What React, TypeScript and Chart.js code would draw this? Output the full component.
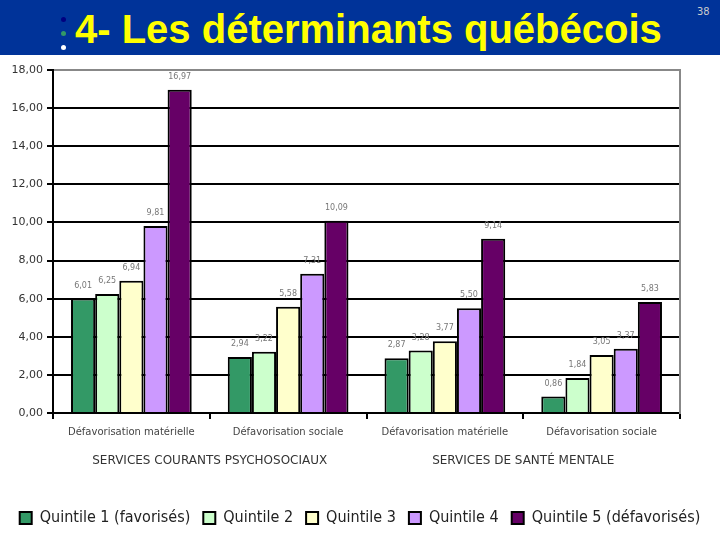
import React, { useEffect, useRef } from "react";
import { Chart, registerables } from "chart.js";

Chart.register(...registerables);

const categories = [
  "Défavorisation matérielle",
  "Défavorisation sociale",
  "Défavorisation matérielle",
  "Défavorisation sociale",
];
const groups = ["SERVICES COURANTS PSYCHOSOCIAUX", "SERVICES DE SANTÉ MENTALE"];
const seriesNames = [
  "Quintile 1 (favorisés)",
  "Quintile 2",
  "Quintile 3",
  "Quintile 4",
  "Quintile 5 (défavorisés)",
];
const quintile1 = [6.01, 2.94, 2.87, 0.86];
const quintile2 = [6.25, 3.22, 3.28, 1.84];
const quintile3 = [6.94, 5.58, 3.77, 3.05];
const quintile4 = [9.81, 7.31, 5.5, 3.37];
const quintile5 = [16.97, 10.09, 9.14, 5.83];
const seriesColors = ["#339966", "#CCFFCC", "#FFFFCC", "#CC99FF", "#660066"];
const yMax = 18;
const yStep = 2;

const fmt = (v: number) => v.toFixed(2).replace(".", ",");

const valueLabels = {
  id: "valueLabels",
  afterDatasetsDraw(chart: any) {
    const ctx = chart.ctx;
    ctx.save();
    ctx.font = "8px 'DejaVu Sans'";
    ctx.fillStyle = "#777";
    ctx.textAlign = "center";
    ctx.textBaseline = "bottom";
    chart.data.datasets.forEach((ds: any, i: number) => {
      const meta = chart.getDatasetMeta(i);
      meta.data.forEach((el: any, j: number) => {
        ctx.fillText(fmt(ds.data[j]), el.x, el.y - 9);
      });
    });
    ctx.restore();
  },
};

function ChartView() {
  const ref = useRef<HTMLCanvasElement>(null);
  useEffect(() => {
    if (!ref.current) return;
    const all = [quintile1, quintile2, quintile3, quintile4, quintile5];
    const chart = new Chart(ref.current, {
      type: "bar",
      data: {
        labels: categories,
        datasets: all.map((d, i) => ({
          label: seriesNames[i],
          data: d,
          backgroundColor: seriesColors[i],
          borderColor: "#000",
          borderWidth: 2,
          categoryPercentage: 0.77,
          barPercentage: 1,
        })),
      },
      options: {
        animation: false,
        responsive: false,
        maintainAspectRatio: false,
        layout: { padding: { top: 15, right: 0, left: 0, bottom: 4 } },
        plugins: {
          tooltip: { enabled: false },
          legend: {
            position: "bottom",
            labels: {
              font: { family: "'Liberation Sans Narrow', 'DejaVu Sans Condensed', 'DejaVu Sans'", size: 16 },
              color: "#222",
              boxWidth: 12,
              boxHeight: 12,
              padding: 13,
            },
          },
        },
        scales: {
          x: {
            type: "category",
            offset: true,
            grid: {
              drawOnChartArea: false,
              drawTicks: true,
              tickLength: 6,
              color: "#000",
              lineWidth: 2,
              offset: true,
            },
            border: { color: "#000", width: 2 },
            ticks: {
              font: { family: "'DejaVu Sans'", size: 10 },
              color: "#444",
              padding: 7,
              maxRotation: 0,
              autoSkip: false,
            },
            afterFit: (axis: any) => {
              axis.height = 30;
            },
          },
          x2: {
            type: "category",
            labels: groups,
            position: "bottom",
            offset: true,
            grid: { display: false },
            border: { display: false },
            ticks: {
              font: { family: "'DejaVu Sans'", size: 12 },
              color: "#333",
              padding: 3,
              maxRotation: 0,
              autoSkip: false,
            },
            afterFit: (axis: any) => {
              axis.height = 54;
            },
          },
          y: {
            min: 0,
            max: yMax,
            ticks: {
              stepSize: yStep,
              font: { family: "'DejaVu Sans'", size: 11 },
              color: "#333",
              padding: 4,
              callback: (v: any) => fmt(Number(v)),
            },
            grid: {
              color: (c: any) => (c.tick && c.tick.value === yMax ? "#888" : "#000"),
              lineWidth: 2,
              tickLength: 6,
              tickColor: "#000",
            },
            border: { color: "#000", width: 2 },
            afterFit: (axis: any) => {
              axis.width = 53;
            },
          },
          y2: {
            position: "right",
            min: 0,
            max: yMax,
            ticks: { display: false },
            grid: { display: false },
            border: { display: true, color: "#888", width: 2 },
            afterFit: (axis: any) => {
              axis.width = 40;
            },
          },
        },
      } as any,
      plugins: [valueLabels],
    });
    return () => chart.destroy();
  }, []);
  return <canvas ref={ref} width={720} height={485} style={{ display: "block" }} />;
}

export default function App() {
  return (
    <div
      style={{
        position: "fixed",
        left: 0,
        top: 0,
        width: 720,
        height: 540,
        background: "#fff",
        overflow: "hidden",
      }}
    >
      <div
        style={{
          position: "absolute",
          left: 0,
          top: 0,
          width: 720,
          height: 55,
          background: "#003399",
        }}
      >
        <div style={{ position: "absolute", left: 61, top: 17, width: 5, height: 5, borderRadius: 3, background: "#000080" }} />
        <div style={{ position: "absolute", left: 61, top: 31, width: 5, height: 5, borderRadius: 3, background: "#339966" }} />
        <div style={{ position: "absolute", left: 61, top: 45, width: 5, height: 5, borderRadius: 3, background: "#ffffff" }} />
        <div
          style={{
            position: "absolute",
            left: 75,
            top: 4,
            fontFamily: "'Liberation Sans', Arial, sans-serif",
            fontWeight: "bold",
            fontSize: 40,
            lineHeight: "50px",
            color: "#FFFF00",
            whiteSpace: "nowrap",
          }}
        >
          4- Les déterminants québécois
        </div>
        <div
          style={{
            position: "absolute",
            left: 697,
            top: 5,
            fontFamily: "'DejaVu Sans Condensed', 'DejaVu Sans'",
            fontSize: 11,
            color: "#ccc",
          }}
        >
          38
        </div>
      </div>
      <div style={{ position: "absolute", left: 0, top: 55, width: 720, height: 485 }}>
        <ChartView />
      </div>
    </div>
  );
}
